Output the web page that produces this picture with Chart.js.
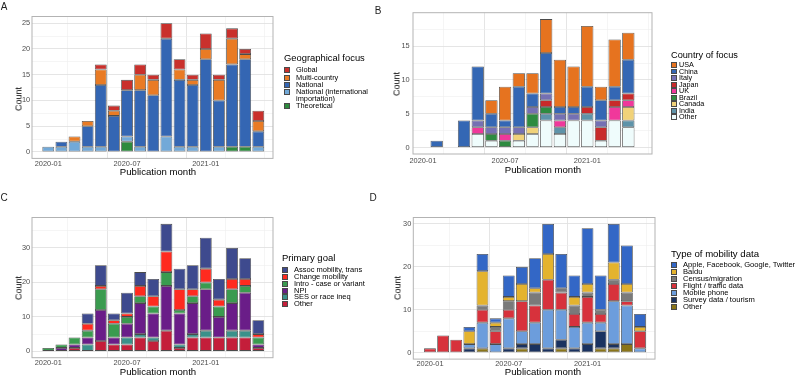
<!DOCTYPE html>
<html><head><meta charset="utf-8">
<script src="https://cdn.jsdelivr.net/npm/chart.js@4.4.1/dist/chart.umd.min.js"></script>
<style>
html,body{margin:0;padding:0;background:#fff;}
body{width:800px;height:377px;position:relative;overflow:hidden;font-family:"Liberation Sans",Arial,Helvetica,sans-serif;color:#000;}
.txt{position:absolute;white-space:nowrap;line-height:1;color:#000;will-change:transform;-webkit-font-smoothing:antialiased;}
.sw{position:absolute;box-sizing:border-box;border:0.8px solid #4a4a4a;}
</style></head><body>
<script>
// ---------- DATA ----------
const MONTHS = ['2020-01','2020-02','2020-03','2020-04','2020-05','2020-06','2020-07','2020-08','2020-09','2020-10','2020-11','2020-12','2021-01','2021-02','2021-03','2021-04','2021-05'];
const TICK_LABELS = ['2020-01','2020-07','2021-01'];
const X_TITLE = 'Publication month';
const Y_TITLE = 'Count';

// Panel A: Geographical focus
const geoGlobal      = [0,0,0,0,1,1,2,2,1,3,2,1,3,1,2,1,2];
const geoMulti       = [0,0,1,1,3,1,0,3,3,0,2,1,2,4,5,1,2];
const geoNational    = [0,1,0,4,12,7,9,11,11,19,13,12,18,9,16,17,3];
const geoNatIntl     = [1,1,2,1,1,0,1,1,0,3,1,1,0,1,0,0,1];
const geoTheoretical = [0,0,0,0,0,0,2,0,0,0,0,0,0,0,1,1,0];

// Panel B: Country of focus
const ctyUSA    = [0,0,0,0,0,2,5,2,3,5,7,6,9,2,7,4,0];
const ctyChina  = [0,1,0,4,8,2,1,6,2,6,1,1,3,3,2,5,0];
const ctyItaly  = [0,0,0,0,1,1,1,1,1,1,1,1,0,1,0,0,0];
const ctyJapan  = [0,0,0,0,0,0,0,0,0,1,0,0,1,2,1,1,0];
const ctyUK     = [0,0,0,0,1,0,1,0,0,0,1,0,0,0,2,1,0];
const ctyBrazil = [0,0,0,0,0,1,1,0,2,1,0,0,0,0,0,0,0];
const ctyCanada = [0,0,0,0,0,0,0,1,1,0,0,0,0,0,0,2,0];
const ctyIndia  = [0,0,0,0,0,0,0,0,0,1,1,0,1,0,0,1,0];
const ctyOther  = [0,0,0,0,2,1,0,1,2,4,2,4,4,1,4,3,0];

// Panel C: Primary goal
const goalAssoc  = [0,0,0,3,6,2,6,4,5,8,6,7,9,6,9,6,4];
const goalChange = [0,0,0,2,1,1,1,3,3,6,6,2,4,2,3,2,1];
const goalIntro  = [1,1,2,2,6,4,2,2,2,4,1,2,2,3,4,2,2];
const goalNPI    = [0,1,1,2,9,2,4,9,7,13,9,9,12,6,8,11,1];
const goalSES    = [0,0,0,2,0,0,2,1,1,0,1,1,2,0,2,2,0];
const goalOther  = [0,0,1,0,3,2,2,4,3,6,1,4,4,4,4,4,1];

// Panel D: Type of mobility data
const mobApple  = [0,0,0,1,4,1,5,4,7,7,8,5,13,8,9,9,3];
const mobBaidu  = [0,0,0,3,8,1,1,4,1,6,0,2,2,0,4,2,1];
const mobCensus = [0,0,0,0,1,1,2,0,3,0,1,2,1,1,1,2,0];
const mobFlight = [1,4,3,0,3,3,2,7,4,7,4,3,6,2,4,1,4];
const mobPhone  = [0,0,0,1,6,2,7,3,5,9,7,5,5,2,10,9,1];
const mobSurvey = [0,0,0,1,0,0,1,1,2,1,2,1,2,4,1,0,0];
const mobOther  = [0,0,0,0,1,0,0,1,0,0,1,0,0,1,1,2,0];

// ---------- STYLE / LAYOUT ----------
Chart.defaults.font.family = '"Liberation Sans", Arial, Helvetica, sans-serif';
const BAR_EDGE = 'rgba(55,55,55,0.9)';
const GRID_MAJOR = '#e2e2e2', GRID_MINOR = '#efefef';

const majorIdx = TICK_LABELS.map(t => MONTHS.indexOf(t));
const xGrid = [];
majorIdx.forEach((m, i) => { xGrid.push(m); xGrid.push(m + (i < majorIdx.length - 1 ? (majorIdx[i+1]-m)/2 : (majorIdx[1]-majorIdx[0])/2)); });

const frame = { id:'frame', afterDatasetsDraw(chart){
  const {ctx, chartArea:a} = chart; ctx.save(); ctx.strokeStyle = '#b3b3b3'; ctx.lineWidth = 1;
  ctx.strokeRect(a.left, a.top, a.right - a.left, a.bottom - a.top); ctx.restore(); } };

function addText(text, x, y, size, opts = {}) {
  const d = document.createElement('div');
  d.className = 'txt';
  d.textContent = text;
  d.style.fontSize = size + 'px';
  d.style.left = x + 'px'; d.style.top = y + 'px';
  d.style.color = opts.color || '#000000';
  d.style.transform = opts.transform || 'translate(-50%,-50%)';
  document.body.appendChild(d);
  return d;
}

function panel(cfg) {
  const c = document.createElement('canvas');
  c.width = cfg.box.w; c.height = cfg.box.h;
  c.style.cssText = `position:absolute;left:${cfg.box.l}px;top:${cfg.box.t}px;width:${cfg.box.w}px;height:${cfg.box.h}px`;
  document.body.appendChild(c);
  const yW = cfg.area.l - cfg.box.l;
  const xH = cfg.box.t + cfg.box.h - cfg.area.b;
  const yTicks = [];
  for (let v = 0; v <= cfg.yTop + 1e-9; v += cfg.yMinor) yTicks.push(v);
  const datasets = cfg.series.slice().reverse().map(s => ({
    label: s.label.replace('\n', ' '), backgroundColor: s.color, borderColor: BAR_EDGE,
    borderWidth: 0.8, borderSkipped: false,
    data: s.values.map((v, i) => ({x: i, y: v > 0 ? v : null})),
    barPercentage: 0.9, categoryPercentage: 1.0
  }));
  new Chart(c, {
    type: 'bar',
    data: { datasets },
    options: {
      responsive: false, animation: false, devicePixelRatio: 1,
      layout: { padding: { top: cfg.area.t - cfg.box.t, right: cfg.box.l + cfg.box.w - cfg.area.r, left: 0, bottom: 0 } },
      plugins: { legend: { display: false }, tooltip: { enabled: false } },
      scales: {
        x: {
          type: 'linear', stacked: true, min: cfg.xMin, max: cfg.xMax, offset: false,
          afterBuildTicks(s) { s.ticks = xGrid.map(v => ({ value: v })); },
          afterFit(s) { s.height = xH; },
          ticks: { autoSkip: false, maxRotation: 0, minRotation: 0, padding: cfg.xTickPad, color: '#4d4d4d',
                   font: { size: 7.4, lineHeight: 1.2 },
                   callback: v => (TICK_LABELS.includes(MONTHS[v]) ? MONTHS[v] : '') },
          grid: { drawTicks: false,
                  color: ctx => (ctx.tick && majorIdx.includes(ctx.tick.value) ? GRID_MAJOR : GRID_MINOR),
                  lineWidth: ctx => (ctx.tick && majorIdx.includes(ctx.tick.value) ? 0.9 : 0.6) },
          border: { display: false }
        },
        y: {
          type: 'linear', stacked: true, min: cfg.yMin, max: cfg.yMax,
          afterBuildTicks(s) { s.ticks = yTicks.map(v => ({ value: v })); },
          afterFit(s) { s.width = yW; },
          ticks: { padding: cfg.yTickPad, color: '#4d4d4d', font: { size: 7.4 },
                   callback: v => (Math.abs(v % cfg.yMajor) < 1e-9 ? String(v) : '') },
          grid: { drawTicks: false,
                  color: ctx => (ctx.tick && Math.abs(ctx.tick.value % cfg.yMajor) < 1e-9 ? GRID_MAJOR : GRID_MINOR),
                  lineWidth: ctx => (ctx.tick && Math.abs(ctx.tick.value % cfg.yMajor) < 1e-9 ? 0.9 : 0.6) },
          border: { display: false }
        }
      }
    },
    plugins: [frame]
  });
  // axis titles
  addText(X_TITLE, cfg.xTitle[0], cfg.xTitle[1], 9.6);
  addText(Y_TITLE, cfg.yTitle[0], cfg.yTitle[1], 9, { transform: 'translate(-50%,-50%) rotate(-90deg)' });
  // panel letter
  addText(cfg.letter, cfg.letterPos[0], cfg.letterPos[1], 10, { color: '#222222' });
  // legend
  const L = cfg.legend;
  addText(cfg.legendTitle, L.x, L.titleY, L.titleSize, { transform: 'translate(0,-50%)' });
  let line = 0;
  cfg.series.forEach(s => {
    const cy = L.y0 + line * L.step;
    const sw = document.createElement('div');
    sw.className = 'sw';
    sw.style.left = L.x + 'px'; sw.style.top = (cy - L.sw / 2) + 'px';
    sw.style.width = L.sw + 'px'; sw.style.height = L.sw + 'px';
    sw.style.backgroundColor = s.color;
    document.body.appendChild(sw);
    const lines = s.label.split('\n');
    lines.forEach((t, k) => {
      addText(t, L.textX, cy + k * L.step, L.size, { transform: 'translate(0,-50%)', color: '#000000' });
    });
    line += lines.length;
  });
}

panel({
  letter: 'A', letterPos: [4.2, 6.8],
  box: { l: 0, t: 0, w: 275, h: 180 }, area: { l: 32, t: 16.5, r: 273, b: 158.4 },
  xMin: -1.24, xMax: 17.12, yMin: -1.25, yMax: 26.3, yTop: 25, yMinor: 2.5, yMajor: 5,
  xTickPad: 1.4, yTickPad: 1.8, xTitle: [158.3, 171.7], yTitle: [18.8, 99],
  legendTitle: 'Geographical focus',
  legend: { x: 284, titleY: 58, titleSize: 9.4, y0: 70.3, step: 7.2, sw: 6, textX: 295.8, size: 7.4 },
  series: [
    { label: 'Global', color: '#C9302C', values: geoGlobal },
    { label: 'Multi-country', color: '#E97B24', values: geoMulti },
    { label: 'National', color: '#3466B3', values: geoNational },
    { label: 'National (international\nimportation)', color: '#72A9D8', values: geoNatIntl },
    { label: 'Theoretical', color: '#2E8B3E', values: geoTheoretical }
  ]
});

panel({
  letter: 'B', letterPos: [378, 10.8],
  box: { l: 385, t: 0, w: 270, h: 180 }, area: { l: 413, t: 12.7, r: 652, b: 154 },
  xMin: -0.73, xMax: 16.73, yMin: -0.95, yMax: 19.95, yTop: 17.5, yMinor: 2.5, yMajor: 5,
  xTickPad: 2.3, yTickPad: 3.3, xTitle: [543, 170], yTitle: [397, 83.5],
  legendTitle: 'Country of focus',
  legend: { x: 671, titleY: 56, titleSize: 9.2, y0: 65, step: 6.54, sw: 5.8, textX: 679, size: 7.2 },
  series: [
    { label: 'USA', color: '#E6731F', values: ctyUSA },
    { label: 'China', color: '#3467B4', values: ctyChina },
    { label: 'Italy', color: '#7570B3', values: ctyItaly },
    { label: 'Japan', color: '#C82A2A', values: ctyJapan },
    { label: 'UK', color: '#F0389B', values: ctyUK },
    { label: 'Brazil', color: '#2E8B40', values: ctyBrazil },
    { label: 'Canada', color: '#F1D279', values: ctyCanada },
    { label: 'India', color: '#5E93A9', values: ctyIndia },
    { label: 'Other', color: '#EFFCFC', values: ctyOther }
  ]
});

panel({
  letter: 'C', letterPos: [4.2, 197.5],
  box: { l: 0, t: 188, w: 275, h: 189 }, area: { l: 32, t: 217.5, r: 273, b: 357.7 },
  xMin: -1.24, xMax: 17.12, yMin: -1.85, yMax: 38.85, yTop: 35, yMinor: 5, yMajor: 10,
  xTickPad: 1.2, yTickPad: 1.8, xTitle: [158.3, 371.7], yTitle: [18.8, 287.7],
  legendTitle: 'Primary goal',
  legend: { x: 282.3, titleY: 257.7, titleSize: 9.5, y0: 270, step: 6.86, sw: 6, textX: 294, size: 7.5 },
  series: [
    { label: 'Assoc mobility, trans', color: '#3E4A8E', values: goalAssoc },
    { label: 'Change mobility', color: '#FF2A1F', values: goalChange },
    { label: 'Intro - case or variant', color: '#3A9B4F', values: goalIntro },
    { label: 'NPI', color: '#6A1D88', values: goalNPI },
    { label: 'SES or race ineq', color: '#3A918A', values: goalSES },
    { label: 'Other', color: '#C41E3A', values: goalOther }
  ]
});

panel({
  letter: 'D', letterPos: [373, 197.5],
  box: { l: 385, t: 188, w: 273, h: 189 }, area: { l: 413.3, t: 217.5, r: 655, b: 359.1 },
  xMin: -1.27, xMax: 17.14, yMin: -1.5, yMax: 31.5, yTop: 30, yMinor: 5, yMajor: 10,
  xTickPad: 0.6, yTickPad: 2, xTitle: [543.3, 371.7], yTitle: [398, 288],
  legendTitle: 'Type of mobility data',
  legend: { x: 671, titleY: 253.7, titleSize: 9.6, y0: 265.3, step: 6.9, sw: 6, textX: 682.7, size: 7.6 },
  series: [
    { label: 'Apple, Facebook, Google, Twitter', color: '#3367C6', values: mobApple },
    { label: 'Baidu', color: '#E4B32E', values: mobBaidu },
    { label: 'Census/migration', color: '#7A7A7A', values: mobCensus },
    { label: 'Flight / traffic data', color: '#D7323C', values: mobFlight },
    { label: 'Mobile phone', color: '#6C9DDC', values: mobPhone },
    { label: 'Survey data / tourism', color: '#1A3260', values: mobSurvey },
    { label: 'Other', color: '#8A7519', values: mobOther }
  ]
});
</script>
</body></html>
